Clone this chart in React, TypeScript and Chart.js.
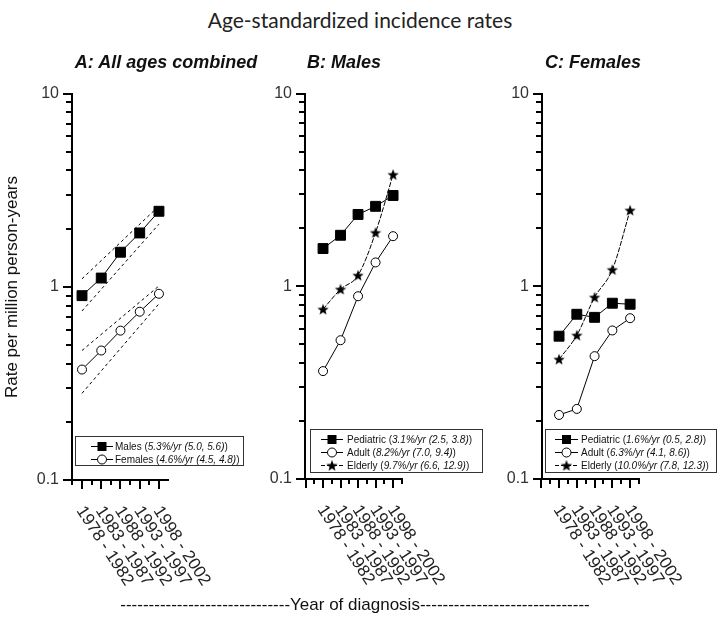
import React, { useEffect, useRef } from "react";
import { Chart, registerables } from "chart.js";
Chart.register(...registerables);

// ---------- data ----------
const periods = ["1978 - 1982", "1983 - 1987", "1988 - 1992", "1993 - 1997", "1998 - 2002"];
const yTickValues = [0.1, 1, 10];

// Panel A: all ages combined
const allMales = [0.9, 1.11, 1.51, 1.9, 2.46];
const allFemales = [0.373, 0.468, 0.593, 0.743, 0.92];
const allMalesUpper = [1.1, 2.62];
const allMalesLower = [0.75, 2.11];
const allFemalesUpper = [0.468, 1.01];
const allFemalesLower = [0.281, 0.817];

// Panel B: males
const malePediatric = [1.57, 1.84, 2.36, 2.6, 2.96];
const maleAdult = [0.363, 0.525, 0.888, 1.33, 1.82];
const maleElderly = [0.76, 0.965, 1.14, 1.9, 3.8];

// Panel C: females
const femalePediatric = [0.551, 0.716, 0.69, 0.817, 0.807];
const femaleAdult = [0.215, 0.231, 0.434, 0.59, 0.683];
const femaleElderly = [0.418, 0.557, 0.877, 1.22, 2.48];

// legend texts
const legendNamesA = ["Males", "Females"];
const legendRatesA = ["5.3%/yr (5.0, 5.6)", "4.6%/yr (4.5, 4.8)"];
const legendNamesBC = ["Pediatric", "Adult", "Elderly"];
const legendRatesB = ["3.1%/yr (2.5, 3.8)", "8.2%/yr (7.0, 9.4)", "9.7%/yr (6.6, 12.9)"];
const legendRatesC = ["1.6%/yr (0.5, 2.8)", "6.3%/yr (4.1, 8.6)", "10.0%/yr (7.8, 12.3)"];

const panelTitles = ["A: All ages combined", "B: Males", "C: Females"];

// ---------- helpers ----------
const FONT = '"Liberation Sans", Arial, Helvetica, sans-serif';
type Kind = "square" | "circle" | "star";

function makeStar(r: number) {
  const c = document.createElement("canvas");
  const s = Math.ceil(r * 2 + 2);
  c.width = s;
  c.height = s;
  const g = c.getContext("2d")!;
  g.translate(s / 2, s / 2 + 0.5);
  g.beginPath();
  for (let i = 0; i < 10; i++) {
    const rad = i % 2 === 0 ? r : r * 0.42;
    const a = -Math.PI / 2 + (i * Math.PI) / 5;
    g.lineTo(rad * Math.cos(a), rad * Math.sin(a));
  }
  g.closePath();
  g.fillStyle = "#000";
  g.fill();
  return c;
}

function seriesDataset(label: string, values: number[], kind: Kind, star: HTMLCanvasElement) {
  return {
    label,
    data: values.map((v, i) => ({ x: i, y: v })),
    borderColor: "#000",
    borderWidth: 1,
    borderDash: kind === "star" ? [5, 1.5] : [],
    tension: kind === "star" ? 0.4 : 0,
    cubicInterpolationMode: kind === "star" ? "monotone" : "default",
    pointStyle: kind === "square" ? "rect" : kind === "circle" ? "circle" : star,
    pointRadius: kind === "square" ? 7 : kind === "circle" ? 4.5 : 6,
    pointBackgroundColor: kind === "circle" ? "#fff" : "#000",
    pointBorderColor: "#000",
    pointBorderWidth: 1,
    fill: false,
  };
}

function ciDataset(label: string, ends: number[]) {
  return {
    label,
    data: [
      { x: 0, y: ends[0] },
      { x: periods.length - 1, y: ends[1] },
    ],
    borderColor: "#000",
    borderWidth: 1,
    borderDash: [3, 3],
    pointRadius: 0,
    tension: 0,
    fill: false,
  };
}

type SeriesDef = { label: string; values: number[]; kind: Kind };
type PanelDef = {
  id: string;
  left: number;
  top: number;
  w: number;
  h: number;
  yWidth: number;
  xHeight: number;
  padTop: number;
  padRight: number;
  xMin: number;
  xMax: number;
  series: SeriesDef[];
  ci: { label: string; ends: number[] }[];
  legend: { dx: number; gap: number; w: number; s0: number; s1: number; tx: number };
  legendItems: { kind: Kind; name: string; rate: string }[];
};

const panels: PanelDef[] = [
  {
    id: "A",
    left: 0,
    top: 71,
    w: 260,
    h: 549,
    yWidth: 72,
    xHeight: 140,
    padTop: 2,
    padRight: 92,
    xMin: -0.52,
    xMax: 4.47,
    series: [
      { label: "Males", values: allMales, kind: "square" },
      { label: "Females", values: allFemales, kind: "circle" },
    ],
    ci: [
      { label: "Males upper", ends: allMalesUpper },
      { label: "Males lower", ends: allMalesLower },
      { label: "Females upper", ends: allFemalesUpper },
      { label: "Females lower", ends: allFemalesLower },
    ],
    legend: { dx: 3, gap: 15, w: 168, s0: 16, s1: 38, tx: 40 },
    legendItems: [
      { kind: "square", name: legendNamesA[0], rate: legendRatesA[0] },
      { kind: "circle", name: legendNamesA[1], rate: legendRatesA[1] },
    ],
  },
  {
    id: "B",
    left: 230,
    top: 71,
    w: 260,
    h: 549,
    yWidth: 75,
    xHeight: 141,
    padTop: 2,
    padRight: 88,
    xMin: -1.03,
    xMax: 4.51,
    series: [
      { label: "Pediatric", values: malePediatric, kind: "square" },
      { label: "Adult", values: maleAdult, kind: "circle" },
      { label: "Elderly", values: maleElderly, kind: "star" },
    ],
    ci: [],
    legend: { dx: 5, gap: 7, w: 172, s0: 11, s1: 33, tx: 37 },
    legendItems: [
      { kind: "square", name: legendNamesBC[0], rate: legendRatesB[0] },
      { kind: "circle", name: legendNamesBC[1], rate: legendRatesB[1] },
      { kind: "star", name: legendNamesBC[2], rate: legendRatesB[2] },
    ],
  },
  {
    id: "C",
    left: 470,
    top: 71,
    w: 250,
    h: 549,
    yWidth: 72,
    xHeight: 141,
    padTop: 2,
    padRight: 81,
    xMin: -0.96,
    xMax: 4.5,
    series: [
      { label: "Pediatric", values: femalePediatric, kind: "square" },
      { label: "Adult", values: femaleAdult, kind: "circle" },
      { label: "Elderly", values: femaleElderly, kind: "star" },
    ],
    ci: [],
    legend: { dx: 3, gap: 7, w: 171, s0: 10, s1: 33, tx: 36 },
    legendItems: [
      { kind: "square", name: legendNamesBC[0], rate: legendRatesC[0] },
      { kind: "circle", name: legendNamesBC[1], rate: legendRatesC[1] },
      { kind: "star", name: legendNamesBC[2], rate: legendRatesC[2] },
    ],
  },
];

function drawMarker(ctx: CanvasRenderingContext2D, kind: Kind, x: number, y: number, star: HTMLCanvasElement) {
  ctx.save();
  ctx.setLineDash([]);
  if (kind === "square") {
    ctx.fillStyle = "#000";
    ctx.fillRect(x - 4.5, y - 4.5, 9, 9);
  } else if (kind === "circle") {
    ctx.beginPath();
    ctx.arc(x, y, 4.5, 0, Math.PI * 2);
    ctx.fillStyle = "#fff";
    ctx.fill();
    ctx.strokeStyle = "#000";
    ctx.lineWidth = 1;
    ctx.stroke();
  } else {
    ctx.drawImage(star, x - star.width / 2, y - star.height / 2);
  }
  ctx.restore();
}

function Panel({ p }: { p: PanelDef }) {
  const ref = useRef<HTMLCanvasElement>(null);
  useEffect(() => {
    const star = makeStar(6);
    const datasets: any[] = [
      ...p.series.map((s) => seriesDataset(s.label, s.values, s.kind, star)),
      ...p.ci.map((c) => ciDataset(c.label, c.ends)),
    ];
    const decor = {
      id: "decor" + p.id,
      afterDraw(chart: any) {
        const { ctx, chartArea: a, scales } = chart;
        const xs = scales.x;
        const ys = scales.y;
        ctx.save();
        // y ticks (major/minor, outward)
        ctx.strokeStyle = "#000";
        ctx.lineWidth = 2;
        ctx.beginPath();
        const yVals: { v: number; major: boolean }[] = [];
        for (const d of [0.1, 1]) for (let k = 1; k <= 9; k++) yVals.push({ v: d * k, major: k === 1 });
        yVals.push({ v: 10, major: true });
        yVals.forEach(({ v, major }) => {
          const py = Math.round(ys.getPixelForValue(v));
          ctx.moveTo(a.left - (major ? 9 : 6), py);
          ctx.lineTo(a.left, py);
        });
        // x ticks (long at periods, short between)
        for (let t = -1; t <= xs.max + 0.001; t += 0.5) {
          if (t < xs.min - 0.05) continue;
          const px = Math.round(xs.getPixelForValue(t));
          const len = Number.isInteger(t) ? 9 : 5;
          ctx.moveTo(px, a.bottom);
          ctx.lineTo(px, a.bottom + len);
        }
        ctx.stroke();

        // rotated x labels
        ctx.fillStyle = "#222";
        ctx.font = `17px ${FONT}`;
        ctx.textAlign = "left";
        ctx.textBaseline = "middle";
        periods.forEach((lab, i) => {
          const px = xs.getPixelForValue(i);
          ctx.save();
          ctx.translate(px - 2, a.bottom + 28);
          ctx.rotate((57 * Math.PI) / 180);
          ctx.fillText(lab, 0, 0);
          ctx.restore();
        });

        // legend box
        const L = p.legend;
        const n = p.legendItems.length;
        const h = n === 2 ? 29 : 43;
        const bx = Math.round(a.left + L.dx);
        const by = Math.round(a.bottom - L.gap - h);
        ctx.fillStyle = "#fff";
        ctx.fillRect(bx, by, L.w, h);
        ctx.strokeStyle = "#333";
        ctx.lineWidth = 1;
        ctx.strokeRect(bx + 0.5, by + 0.5, L.w, h);
        p.legendItems.forEach((it, i) => {
          const ry = by + 10.5 + i * 13;
          ctx.strokeStyle = "#000";
          ctx.lineWidth = 1;
          ctx.setLineDash(it.kind === "star" ? [4, 2] : []);
          ctx.beginPath();
          ctx.moveTo(bx + L.s0, ry);
          ctx.lineTo(bx + L.s1, ry);
          ctx.stroke();
          ctx.setLineDash([]);
          drawMarker(ctx, it.kind, bx + (L.s0 + L.s1) / 2, ry, star);
          const segs: [string, boolean][] = [
            [it.name + " (", false],
            [it.rate, true],
            [")", false],
          ];
          let tx = bx + L.tx;
          ctx.fillStyle = "#111";
          ctx.textAlign = "left";
          ctx.textBaseline = "middle";
          segs.forEach(([s, ital]) => {
            ctx.font = `${ital ? "italic " : ""}10px ${FONT}`;
            ctx.fillText(s, tx, ry + 0.5);
            tx += ctx.measureText(s).width;
          });
        });
        ctx.restore();
      },
    };

    const chart = new Chart(ref.current!, {
      type: "line",
      data: { datasets },
      options: {
        animation: false,
        responsive: false,
        maintainAspectRatio: false,
        events: [],
        layout: { padding: { top: p.padTop, right: p.padRight, left: 0, bottom: 0 } },
        plugins: { legend: { display: false }, tooltip: { enabled: false }, title: { display: false } },
        scales: {
          x: {
            type: "linear",
            min: p.xMin,
            max: p.xMax,
            ticks: { display: false },
            grid: { display: false, drawTicks: false },
            border: { display: true, color: "#000", width: 2 },
            afterFit: (s: any) => {
              s.height = p.xHeight;
            },
          },
          y: {
            type: "logarithmic",
            min: 0.1,
            max: 10,
            afterBuildTicks: (s: any) => {
              s.ticks = yTickValues.map((v) => ({ value: v }));
            },
            ticks: {
              autoSkip: false,
              padding: 13,
              color: "#333",
              font: { family: FONT, size: 16 },
              callback: (v: any) => String(v),
            },
            grid: { display: false, drawTicks: false },
            border: { display: true, color: "#000", width: 2 },
            afterFit: (s: any) => {
              s.width = p.yWidth;
            },
          },
        },
      } as any,
      plugins: [decor],
    });
    return () => chart.destroy();
  }, []);
  return (
    <canvas
      ref={ref}
      width={p.w}
      height={p.h}
      style={{ position: "absolute", left: p.left, top: p.top, width: p.w, height: p.h }}
    />
  );
}

const titleCenters = [166, 344, 593];

export default function App() {
  const dashes = "-".repeat(30);
  return (
    <div
      style={{
        position: "absolute",
        left: 0,
        top: 0,
        width: 720,
        height: 622,
        background: "#fff",
        overflow: "hidden",
      }}
    >
      {panels.map((p) => (
        <Panel key={p.id} p={p} />
      ))}
      <div
        style={{
          position: "absolute",
          left: 0,
          top: 5,
          width: 720,
          textAlign: "center",
          fontFamily: "Lato, 'Open Sans', sans-serif",
          fontSize: 21,
          color: "#222",
          lineHeight: "30px",
        }}
      >
        Age-standardized incidence rates
      </div>
      {panelTitles.map((t, i) => (
        <div
          key={t}
          style={{
            position: "absolute",
            left: titleCenters[i] - 150,
            top: 51,
            width: 300,
            textAlign: "center",
            fontFamily: FONT,
            fontWeight: "bold",
            fontStyle: "italic",
            fontSize: 18,
            lineHeight: "22px",
            color: "#111",
          }}
        >
          {t}
        </div>
      ))}
      <div
        style={{
          position: "absolute",
          left: 12 - 150,
          top: 287 - 11,
          width: 300,
          height: 22,
          lineHeight: "22px",
          textAlign: "center",
          transform: "rotate(-90deg)",
          fontFamily: FONT,
          fontSize: 17,
          color: "#111",
        }}
      >
        Rate per million person-years
      </div>
      <div
        style={{
          position: "absolute",
          left: 55,
          top: 594,
          width: 600,
          textAlign: "center",
          fontFamily: FONT,
          fontSize: 17,
          lineHeight: "22px",
          color: "#111",
          whiteSpace: "nowrap",
        }}
      >
        {dashes}Year of diagnosis{dashes}
      </div>
    </div>
  );
}
